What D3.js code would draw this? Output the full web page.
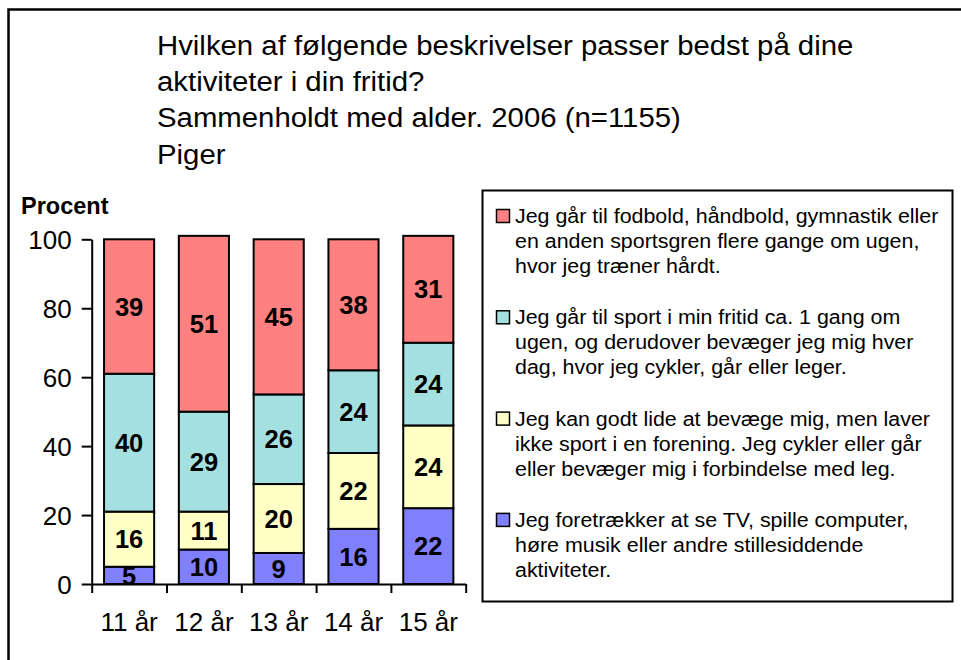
<!DOCTYPE html>
<html>
<head>
<meta charset="utf-8">
<script src="https://cdn.jsdelivr.net/npm/d3@7"></script>
<style>
  html, body { margin: 0; padding: 0; background: #fff; }
  svg { display: block; font-family: Arial, "Liberation Sans", sans-serif; }
</style>
</head>
<body>
<svg id="chart" width="961" height="660"></svg>
<script>
// Age groups on the x axis
const categories = ["11 år", "12 år", "13 år", "14 år", "15 år"];

// Percent per age group, stacked bottom to top
const sedentary    = [5, 10, 9, 16, 22];
const likeMoving   = [16, 11, 20, 22, 24];
const weeklySport  = [40, 29, 26, 24, 24];
const hardTraining = [39, 51, 45, 38, 31];

const yTicks = [0, 20, 40, 60, 80, 100];

const titleLines = [
  "Hvilken af følgende beskrivelser passer bedst på dine",
  "aktiviteter i din fritid?",
  "Sammenholdt med alder. 2006 (n=1155)",
  "Piger"
];

// Legend entries, top to bottom (top series first)
const legendKeys = ["hardTraining", "weeklySport", "likeMoving", "sedentary"];
const legendLines = [
  ["Jeg går til fodbold, håndbold, gymnastik eller", "en anden sportsgren flere gange om ugen,", "hvor jeg træner hårdt."],
  ["Jeg går til sport i min fritid ca. 1 gang om", "ugen, og derudover bevæger jeg mig hver", "dag, hvor jeg cykler, går eller leger."],
  ["Jeg kan godt lide at bevæge mig, men laver", "ikke sport i en forening. Jeg cykler eller går", "eller bevæger mig i forbindelse med leg."],
  ["Jeg foretrækker at se TV, spille computer,", "høre musik eller andre stillesiddende", "aktiviteter."]
];

const colors = {
  sedentary: "#8080ff",
  likeMoving: "#ffffc6",
  weeklySport: "#a5e0e0",
  hardTraining: "#ff8080"
};

const svg = d3.select("#chart");

// outer frame
svg.append("rect")
  .attr("x", 8.5).attr("y", 9.5)
  .attr("width", 980).attr("height", 700)
  .attr("fill", "none").attr("stroke", "#000").attr("stroke-width", 2.5);

// title (slightly widened lettering)
svg.append("g")
  .attr("transform", "translate(157,0) scale(1.087,1)")
  .selectAll("text").data(titleLines).join("text")
  .attr("x", 0).attr("y", (d, i) => 55 + i * 36.2)
  .attr("font-size", 27).attr("fill", "#000")
  .text(d => d);

const table = categories.map((c, i) => ({
  cat: c,
  sedentary: sedentary[i],
  likeMoving: likeMoving[i],
  weeklySport: weeklySport[i],
  hardTraining: hardTraining[i]
}));

const stackKeys = ["sedentary", "likeMoving", "weeklySport", "hardTraining"];
const series = d3.stack().keys(stackKeys)(table);

const x0 = 91.7, x1 = 465.7;
const x = d3.scaleBand().domain(categories).range([x0, x1])
  .paddingInner(0.33).paddingOuter(0.165);
const y = d3.scaleLinear().domain([0, 100]).range([584, 239.3]);

// bars
const g = svg.append("g");
g.selectAll("g.series").data(series).join("g")
  .attr("class", "series")
  .attr("fill", d => colors[d.key])
  .selectAll("rect").data(d => d).join("rect")
  .attr("x", d => x(d.data.cat))
  .attr("width", x.bandwidth())
  .attr("y", d => y(d[1]))
  .attr("height", d => y(d[0]) - y(d[1]))
  .attr("stroke", "#000").attr("stroke-width", 2);

// value labels, centred in each segment
g.selectAll("g.labels").data(series).join("g")
  .attr("class", "labels")
  .selectAll("text").data(d => d).join("text")
  .attr("x", d => x(d.data.cat) + x.bandwidth() / 2)
  .attr("y", d => (y(d[0]) + y(d[1])) / 2)
  .attr("dy", "0.36em")
  .attr("text-anchor", "middle")
  .attr("font-size", 25.5).attr("font-weight", "bold").attr("fill", "#000")
  .text(d => d[1] - d[0]);

// y axis
const yAxis = svg.append("g")
  .attr("transform", `translate(${x0},0)`)
  .call(d3.axisLeft(y).tickValues(yTicks).tickSize(10).tickSizeOuter(0).tickPadding(10));
yAxis.select(".domain").attr("stroke-width", 2);
yAxis.selectAll(".tick line").attr("stroke-width", 2);
yAxis.selectAll(".tick text")
  .attr("font-size", 26).attr("font-family", "Arial, 'Liberation Sans', sans-serif")
  .attr("fill", "#000").attr("dy", "0.36em");

// x axis: boundary ticks between categories
const xEdge = d3.scaleLinear().domain([0, categories.length]).range([x0, x1]);
const xAxis = svg.append("g")
  .attr("transform", `translate(0,${y(0)})`)
  .call(d3.axisBottom(xEdge).tickValues(d3.range(categories.length + 1))
    .tickSize(9).tickSizeOuter(0).tickFormat(""));
xAxis.select(".domain").attr("stroke-width", 2);
xAxis.selectAll(".tick line").attr("stroke-width", 2);

// x category labels
const xLabels = svg.append("g")
  .attr("transform", `translate(0,${y(0)})`)
  .call(d3.axisBottom(x).tickSize(0).tickPadding(0));
xLabels.select(".domain").remove();
xLabels.selectAll(".tick text")
  .attr("font-size", 26).attr("font-family", "Arial, 'Liberation Sans', sans-serif")
  .attr("fill", "#000").attr("y", 47).attr("dy", 0);

// axis title
svg.append("text")
  .attr("x", 21).attr("y", 213.5)
  .attr("font-size", 23.5).attr("font-weight", "bold").attr("fill", "#000")
  .text("Procent");

// legend
svg.append("rect")
  .attr("x", 482.5).attr("y", 190.5)
  .attr("width", 470).attr("height", 411)
  .attr("fill", "#fff").attr("stroke", "#000").attr("stroke-width", 2);

const leg = svg.append("g").selectAll("g").data(legendKeys).join("g")
  .attr("transform", (d, i) => `translate(0,${223 + i * 101.3})`);
leg.append("rect")
  .attr("x", 496.5).attr("y", -13.5)
  .attr("width", 13).attr("height", 13)
  .attr("fill", d => colors[d]).attr("stroke", "#000").attr("stroke-width", 1.5);
leg.each(function (d, i) {
  d3.select(this).append("g")
    .attr("transform", "translate(515,0) scale(1.07,1)")
    .selectAll("text").data(legendLines[i]).join("text")
    .attr("x", 0).attr("y", (t, j) => j * 25)
    .attr("font-size", 20).attr("fill", "#000")
    .text(t => t);
});
</script>
</body>
</html>
